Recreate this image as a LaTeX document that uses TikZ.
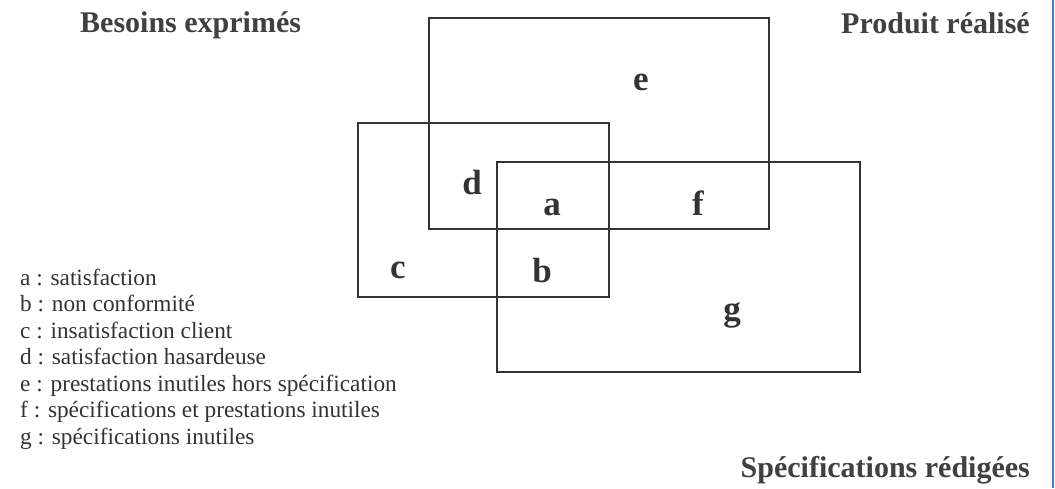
\documentclass[tikz,border=0pt]{standalone}
\usepackage{fontspec}
\setmainfont{Liberation Serif}
\begin{document}
\begin{tikzpicture}[x=1pt,y=-1pt,
  setbox/.style={draw=black!80,line width=1.7pt},
  title/.style={font=\fontsize{30}{30}\selectfont\bfseries,inner sep=0pt,text=black!75},
  zone/.style={font=\fontsize{35}{35}\selectfont\bfseries,inner sep=0pt,anchor=base,text=black!80},
  legend/.style={font=\fontsize{23.3}{23.3}\selectfont,inner sep=0pt,anchor=base west,text=black!80}]
\useasboundingbox (0,0) rectangle (1055,488);
\fill[white] (0,0) rectangle (1055,488);
\draw[line width=2pt,color={rgb,255:red,74;green,123;blue,191}] (1053,0) -- (1053,488);
% sets
\draw[setbox] (358,123) rectangle (609,297);
\draw[setbox] (429,18) rectangle (769,229);
\draw[setbox] (497,162) rectangle (860,372);
% titles
\node[title,anchor=base west] (besoins) at (80,32) {Besoins exprimés};
\node[title,anchor=base east] (produit) at (1030,33) {Produit réalisé};
\node[title,anchor=base east] (specs) at (1030,477) {Spécifications rédigées};
% zones
\node[zone] (ze) at (641,90) {e};
\node[zone] (zd) at (472,194) {d};
\node[zone] (za) at (552,215) {a};
\node[zone] (zf) at (698,215) {f};
\node[zone] (zc) at (398,278) {c};
\node[zone] (zb) at (542,282) {b};
\node[zone] (zg) at (732,320) {g};
% legend
\node[legend] (la) at (20,285) {a : satisfaction};
\node[legend] (lb) at (20,311.5) {b : non conformité};
\node[legend] (lc) at (20,338) {c : insatisfaction client};
\node[legend] (ld) at (20,364.5) {d : satisfaction hasardeuse};
\node[legend] (le) at (20,391) {e : prestations inutiles hors spécification};
\node[legend] (lf) at (20,417.5) {f : spécifications et prestations inutiles};
\node[legend] (lg) at (20,444) {g : spécifications inutiles};
\end{tikzpicture}
\end{document}
